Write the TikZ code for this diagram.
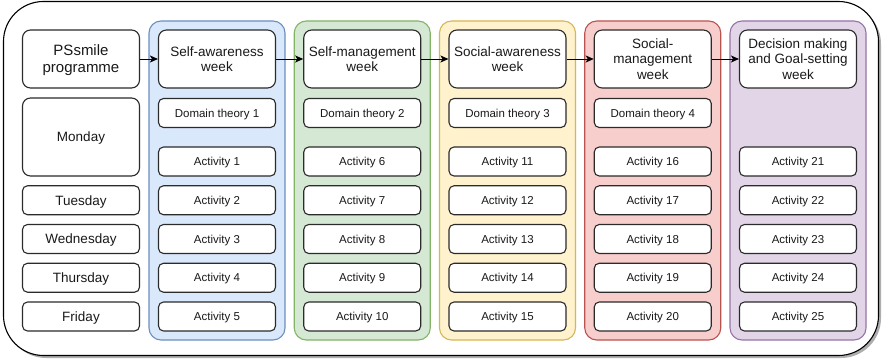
\documentclass[tikz,border=0pt]{standalone}
\usepackage{fontspec}
\setmainfont{Liberation Sans}
\usetikzlibrary{arrows.meta,shadows}

\definecolor{boxline}{HTML}{2B2B2B}
\definecolor{bluefill}{HTML}{DAE8FC}\definecolor{blueline}{HTML}{6C8EBF}
\definecolor{greenfill}{HTML}{D5E8D4}\definecolor{greenline}{HTML}{82B366}
\definecolor{yellowfill}{HTML}{FFF2CC}\definecolor{yellowline}{HTML}{D6B656}
\definecolor{redfill}{HTML}{F8CECC}\definecolor{redline}{HTML}{B85450}
\definecolor{purplefill}{HTML}{E1D5E7}\definecolor{purpleline}{HTML}{9673A6}

\begin{document}
\begin{tikzpicture}[x=1pt,y=-1pt,
  box/.style={draw=boxline, line width=1.1pt, fill=white, rounded corners=5pt,
    align=center, inner sep=0pt, text=black!90, text depth=0pt},
  actbox/.style={box, minimum width=117pt, minimum height=29pt,
    font=\fontsize{11.5}{13}\selectfont},
  daybox/.style={box, minimum width=117pt, minimum height=29pt,
    font=\fontsize{13.5}{15.5}\selectfont},
  headbox/.style={box, rounded corners=8pt, minimum width=117pt, minimum height=58pt,
    font=\fontsize{13.5}{15.3}\selectfont},
  weekcol/.style={rounded corners=12pt, line width=1.1pt, minimum width=136pt,
    minimum height=319pt, inner sep=0pt},
  link/.style={-{Stealth[length=8pt,width=7pt,inset=2pt]}, line width=0.9pt, black}]
\useasboundingbox (0,0) rectangle (885,363);

% outer frame with its shadow
\node[draw=black, line width=1.1pt, fill=white, rounded corners=40pt,
  minimum width=875pt, minimum height=354pt, inner sep=0pt,
  drop shadow={shadow xshift=2.5pt, shadow yshift=-2.5pt, opacity=0.45, fill=black!70}]
  (frame) at (441,178.5) {};

% coloured week columns with header boxes
\foreach \i/\fc/\dc/\title in {
  1/bluefill/blueline/{Self-awareness\\week},
  2/greenfill/greenline/{Self-management\\week},
  3/yellowfill/yellowline/{Social-awareness\\week},
  4/redfill/redline/{Social-\\management\\week},
  5/purplefill/purpleline/{Decision making\\and Goal-setting\\week}}{
  \pgfmathsetmacro\cx{217+145.25*(\i-1)}
  \node[weekcol, fill=\fc, draw=\dc] (col\i) at (\cx,180.5) {};
  \node[headbox] (week\i) at (\cx,59) {\title};
}

% domain theory boxes
\foreach \i in {1,...,4}{
  \pgfmathsetmacro\cx{217+145.25*(\i-1)}
  \node[actbox] (dom\i) at (\cx,113) {Domain theory \i};
}

% daily activities
\foreach \i in {1,...,5}{
  \foreach \k in {1,...,5}{
    \pgfmathtruncatemacro\n{5*(\i-1)+\k}
    \pgfmathsetmacro\cx{217+145.25*(\i-1)}
    \pgfmathsetmacro\cy{161.5+38.75*(\k-1)}
    \node[actbox] (act\n) at (\cx,\cy) {Activity \n};
  }
}

% programme and weekday labels
\node[headbox, font=\fontsize{15}{17}\selectfont] (prog) at (81,59) {PSsmile\\programme};
\node[daybox, rounded corners=8pt, minimum height=78pt] (mon) at (81,137) {Monday};
\foreach \d/\k in {Tuesday/2, Wednesday/3, Thursday/4, Friday/5}{
  \pgfmathsetmacro\cy{161.5+38.75*(\k-1)}
  \node[daybox] (day\k) at (81,\cy) {\d};
}

% week sequence
\draw[link] (prog.east) -- (week1.west);
\foreach \a/\b in {1/2, 2/3, 3/4, 4/5}{
  \draw[link] (week\a.east) -- (week\b.west);
}
\end{tikzpicture}
\end{document}
